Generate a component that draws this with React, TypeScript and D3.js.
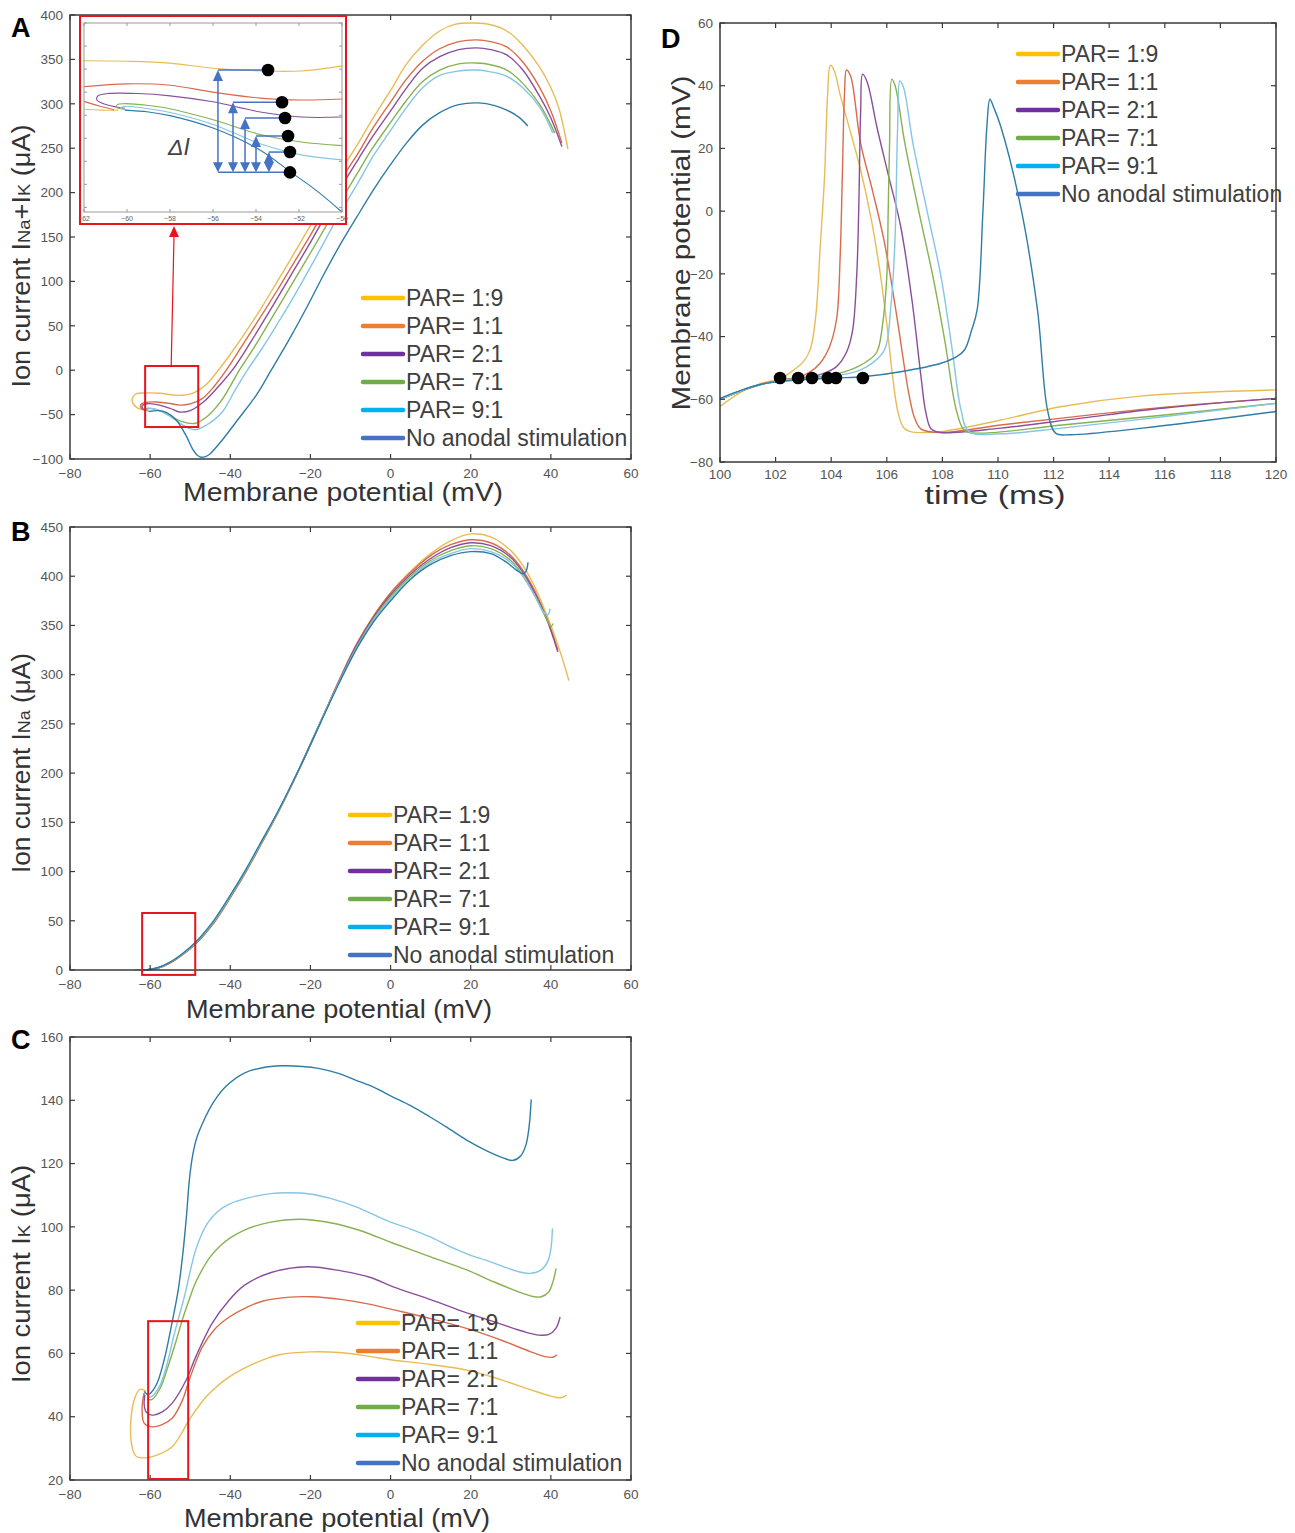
import React from 'react';
import * as d3 from 'd3';

type Pt = [number, number];
type Scale = d3.ScaleLinear<number, number>;

// ---- labels and ticks
const seriesLabels = ['PAR= 1:9', 'PAR= 1:1', 'PAR= 2:1', 'PAR= 7:1', 'PAR= 9:1', 'No anodal stimulation'];
const mvTicks = [-80, -60, -40, -20, 0, 20, 40, 60];
const naKTicks = [-100, -50, 0, 50, 100, 150, 200, 250, 300, 350, 400];
const naTicks = [0, 50, 100, 150, 200, 250, 300, 350, 400, 450];
const kTicks = [20, 40, 60, 80, 100, 120, 140, 160];
const timeTicks = [100, 102, 104, 106, 108, 110, 112, 114, 116, 118, 120];
const vmTicks = [-80, -60, -40, -20, 0, 20, 40, 60];
const insetXTicks = [-62, -60, -58, -56, -54, -52, -50];
const insetYTicks = [-60, -55, -50, -45, -40, -35, -30, -25, -20];

// ---- A: I_Na + I_K vs membrane potential (mV, uA)
const aPar19: Pt[] = [[-61, -45], [-63.2, -42.5], [-64.5, -34], [-63.6, -26.8], [-61, -25.6], [-57.5, -26], [-53, -28.3], [-49.5, -26], [-46, -16], [-43, 0], [-40, 18], [-36, 44], [-32, 72], [-28, 102], [-24, 132], [-20, 163], [-16, 195], [-12.75, 222], [-8, 256], [-4.5, 283], [0, 315], [4, 345], [8, 366], [12.25, 382], [16, 389.5], [21, 391], [25, 389], [29, 382], [33, 366], [37.25, 341], [40, 318], [42, 295], [44.25, 249]];
const aPar11: Pt[] = [[-61, -45], [-62.2, -43], [-62.3, -38.5], [-60.5, -36], [-58.5, -35.8], [-55, -37.5], [-52.75, -39.3], [-50, -38], [-47, -32], [-44, -18], [-41, 0], [-37, 28], [-33, 56], [-28, 92], [-24, 122], [-20, 152], [-16, 184], [-12.75, 212], [-8, 245], [-4.5, 272], [0, 302], [4, 328], [8, 348], [12.25, 362], [17, 370], [21.5, 372], [25, 370], [29, 364], [33, 347], [37.25, 318], [40, 292], [42.75, 256]];
const aPar21: Pt[] = [[-60.8, -45.5], [-61.8, -43.5], [-62, -40], [-60.8, -37.8], [-58, -39], [-55, -43], [-52.75, -47], [-50, -45.5], [-46.5, -35], [-42.5, -16], [-39.5, 0], [-35, 31], [-30, 68], [-25, 106], [-20, 144], [-16, 176], [-12.75, 203], [-8, 238], [-4.5, 263], [0, 292], [4, 318], [8, 340], [12.25, 353], [17, 361], [21.5, 363], [25, 361], [29, 355], [33, 338], [37.25, 308], [40, 284], [42.75, 252]];
const aPar71: Pt[] = [[-60.5, -46], [-61, -44.3], [-60.6, -42.8], [-58, -45], [-55, -51.5], [-52, -58], [-49, -60], [-46, -53], [-42.5, -36], [-40, -18], [-37.75, 0], [-34, 26], [-30, 56], [-25, 94], [-20, 132], [-16, 163], [-12.75, 188], [-8, 224], [-4.5, 250], [0, 279], [4, 304], [8, 325], [12.25, 338], [17, 345], [21.5, 346], [25, 344], [29, 338], [33, 323], [37.25, 299], [41, 267]];
const aPar91: Pt[] = [[-60.3, -46.5], [-60.7, -44.8], [-60.3, -43.3], [-57, -46.5], [-54, -55], [-51, -64], [-48.5, -67], [-46, -62], [-42, -47], [-39, -24], [-35.75, 0], [-32, 25], [-28, 54], [-24, 84], [-20, 116], [-16, 149], [-12.75, 176], [-8, 212], [-4.5, 240], [0, 270], [4, 296], [8, 318], [12.25, 332], [17, 337], [21.5, 338], [25, 336], [29, 331], [33, 318], [37.25, 296], [40.5, 267]];
const aNone: Pt[] = [[-60.3, -46.5], [-58, -45.5], [-56, -47.5], [-53.5, -56], [-51, -74], [-49.5, -88], [-48.3, -95.5], [-47.3, -98], [-46.2, -97.3], [-45, -94], [-42, -78.6], [-38, -55], [-33.5, -28], [-29.8, 0], [-25.25, 35], [-21, 70], [-17, 105], [-12.75, 140], [-8.5, 172], [-4, 205], [-0.25, 230], [4, 256], [8, 276], [12.25, 290], [17, 299], [22, 301], [26, 298], [29, 293], [32, 285], [34.25, 275]];

// ---- A inset (zoom of the threshold region)
const insetPar19a: Pt[] = [[-62, -28.2], [-60, -28.3], [-58, -28.7], [-56, -29.8], [-53.8, -30.4], [-51.9, -30.4], [-50, -29.3]];
const insetPar19b: Pt[] = [[-62, -38.7], [-61.2, -38.9], [-60.4, -38.9]];
const insetPar11a: Pt[] = [[-62, -33.8], [-60, -33.2], [-58, -33.5], [-56, -35], [-53.8, -36.3], [-51.9, -36.7], [-50, -36.5]];
const insetPar11b: Pt[] = [[-62, -37], [-61.3, -38], [-60.6, -38.8]];
const insetPar21: Pt[] = [[-60.1, -38.5], [-60.9, -37.8], [-61.4, -36.7], [-61.35, -35.8], [-60.9, -35.3], [-59.5, -35.3], [-58, -35.8], [-56, -37.1], [-53.8, -39.3], [-51.9, -40.4], [-50, -40.4]];
const insetPar71: Pt[] = [[-60.1, -38.7], [-60.5, -38.3], [-60.45, -37.7], [-60.1, -37.5], [-59, -37.9], [-58, -38.6], [-56, -41], [-53.8, -44.2], [-51.9, -45.8], [-50, -46.6]];
const insetPar91: Pt[] = [[-60, -38.9], [-60.3, -38.5], [-60.15, -38.1], [-59, -38.6], [-58, -39.4], [-56, -42], [-53.8, -46.2], [-51.9, -48.6], [-50, -49.7]];
const insetNone: Pt[] = [[-60.1, -38.9], [-59, -39.3], [-58, -40.1], [-56, -42.8], [-53.8, -47.6], [-52.4, -52.3], [-51.2, -56.3], [-50, -61]];
const insetDotX = [-53.44, -52.79, -52.65, -52.51, -52.42, -52.42];
const insetDotY = [-30.2, -37.2, -40.6, -44.5, -48.0, -52.4];
const deltaArrowX = [-55.77, -55.07, -54.51, -54.0, -53.4];

// ---- B: I_Na
const bPar19: Pt[] = [[-64, 0], [-61, 0.3], [-58, 2], [-55, 7], [-52, 15], [-48.5, 27], [-44, 48], [-40, 73], [-36, 100], [-32.75, 124], [-28, 160], [-22.5, 206], [-17.5, 251], [-13, 292], [-8.5, 330], [-4, 361], [0, 383], [4.75, 404], [10, 423], [15, 436], [20, 443], [25, 440], [30, 426], [33, 411], [36, 389], [40, 350], [42.5, 321], [44.5, 294]];
const bPar11: Pt[] = [[-62, 0], [-60, 0.5], [-58, 2], [-55, 7.5], [-52, 15.5], [-48.5, 27.5], [-44, 49], [-40, 74], [-36, 101], [-32.75, 125], [-28, 161], [-22.5, 207], [-17.5, 252], [-13, 293], [-8.5, 331], [-4, 361], [0, 383], [4.75, 403], [10, 421], [15, 432], [20, 437], [25, 434], [30, 421], [33, 406], [36, 385], [39, 357], [41.75, 325]];
const bPar21: Pt[] = [[-61.5, 0], [-60, 0.5], [-58, 2], [-55, 7.5], [-52, 15.5], [-48.5, 27.5], [-44, 49], [-40, 74], [-36, 101], [-32.75, 125], [-28, 161], [-22.5, 207], [-17.5, 252], [-13, 292], [-8.5, 330], [-4, 360], [0, 381], [4.75, 401], [10, 418], [15, 429], [20, 434], [25, 431], [30, 419], [33, 404], [36, 383], [39, 356], [41.75, 323]];
const bPar71: Pt[] = [[-61.3, 0], [-60, 0.5], [-58, 2.2], [-55, 7.8], [-52, 16], [-48.5, 28], [-44, 49.5], [-40, 74.5], [-36, 101.5], [-32.75, 125.5], [-28, 161], [-22.5, 207], [-17.5, 252], [-13, 291], [-8.5, 328], [-4, 358], [0, 379], [4.75, 399], [10, 416], [15, 426], [20, 431], [25, 428], [30, 416], [33, 401], [36, 380], [38.5, 360], [40, 349], [40.6, 352]];
const bPar91: Pt[] = [[-61.2, 0], [-60, 0.6], [-58, 2.3], [-55, 8], [-52, 16], [-48.5, 28.5], [-44, 50], [-40, 75], [-36, 102], [-32.75, 126], [-28, 161.5], [-22.5, 207], [-17.5, 252], [-13, 291], [-8.5, 327], [-4, 357], [0, 377], [4.75, 397], [10, 414], [15, 423], [20, 428], [25, 425], [30, 414], [33, 400], [36, 380], [38.5, 362], [39.3, 361], [39.8, 367]];
const bNone: Pt[] = [[-61, 0], [-58, 2.5], [-55, 8], [-52, 16.5], [-48.5, 29], [-44, 51], [-40, 76], [-36, 103], [-32.75, 127], [-28, 162], [-22.5, 207], [-17.5, 251], [-13, 290], [-8.5, 326], [-4, 355], [0, 375], [4.75, 396], [10, 412], [15, 421], [20, 425], [25, 423], [29, 414], [31.5, 406], [33, 402.5], [33.8, 405], [34.3, 414]];

// ---- C: I_K
const cPar19: Pt[] = [[-61, 48], [-62.5, 48.7], [-63.8, 46], [-64.8, 39], [-64.6, 31], [-63.5, 27.5], [-61.1, 27], [-58, 28], [-54.5, 30.5], [-52.3, 34.5], [-50.25, 39], [-46, 46.3], [-40.25, 52.6], [-32, 57.9], [-27.75, 59.6], [-20, 60.5], [-12, 60.2], [-5, 59], [0, 58], [10, 56.5], [20, 54.5], [28, 51.5], [35, 48.5], [40, 46.5], [42.5, 46], [44, 46.8]];
const cPar11: Pt[] = [[-61.5, 47.5], [-62, 43], [-61.5, 38], [-59.5, 36.8], [-57, 37.5], [-54.5, 39.5], [-52, 45], [-50.25, 51.6], [-47, 62], [-44, 67.5], [-40.25, 71.5], [-36, 74.5], [-32, 76.5], [-25, 77.8], [-19.8, 77.9], [-12, 77], [-5, 75.5], [0, 74], [10, 71], [20, 67.5], [28, 64], [35, 60.5], [38.5, 59], [40.5, 58.8], [41.5, 59.6]];
const cPar21: Pt[] = [[-61.3, 47], [-61.5, 44], [-61, 41.5], [-59.5, 40.5], [-57, 41.5], [-54.5, 44.3], [-51, 51.6], [-48.6, 59], [-44.5, 69.6], [-40.5, 76.5], [-36.5, 81.5], [-30, 85.5], [-20.75, 87.4], [-12, 86], [-5, 84], [0.5, 81.1], [10, 77], [19, 72.8], [27, 69.5], [33, 67], [37, 65.8], [39.5, 66], [41.3, 68], [42.3, 71.5]];
const cPar71: Pt[] = [[-60.8, 45.5], [-59.5, 45.5], [-57.5, 49], [-55.5, 56], [-53.5, 64], [-52, 70.5], [-50.4, 76.5], [-48.8, 82], [-47, 86.5], [-45, 90.5], [-42.5, 94], [-40, 96.5], [-36.5, 99], [-30, 101.5], [-22.6, 102.4], [-15, 101.3], [-8, 99], [0.5, 94.9], [10, 90.5], [19, 86.4], [26, 82.5], [33, 79], [35.5, 78], [37.6, 77.9], [39.5, 79.5], [40.6, 83], [41.3, 86.9]];
const cPar91: Pt[] = [[-60.5, 46], [-59.5, 46.5], [-57.5, 50], [-55.5, 58], [-54, 66], [-52.5, 73], [-51.25, 79], [-50, 86], [-48.7, 92.5], [-47.2, 97.5], [-45.5, 101.5], [-43, 105], [-40.25, 107.2], [-35, 109.3], [-30, 110.5], [-25.4, 110.8], [-20, 110.4], [-15, 109], [-8.75, 106.4], [0, 101.5], [5, 99.3], [9.75, 96.9], [15, 93.7], [20, 91], [23.7, 89.5], [28, 87.5], [32, 85.8], [34.75, 85.3], [37.6, 86.4], [39.2, 89], [40, 93], [40.4, 99.5]];
const cNone: Pt[] = [[-61.5, 48], [-60.5, 47], [-58.5, 50], [-56.5, 58], [-54.5, 70], [-53, 80], [-51.8, 92], [-50.9, 104], [-50.2, 115], [-49.4, 122.5], [-48.4, 128], [-47, 132.5], [-45.5, 136.5], [-43.9, 140], [-41, 144.5], [-36.5, 148.6], [-32, 150.3], [-27.25, 150.9], [-22, 150.7], [-18, 150.1], [-13, 148.5], [-8.75, 146.4], [-4, 144], [0.5, 141.1], [5, 138.3], [9.75, 134.8], [14, 131.5], [19, 127.4], [24, 124], [28.25, 121.7], [30.5, 121], [32.5, 122.5], [33.8, 126], [34.6, 132], [35.1, 140.3]];

// ---- D: membrane potential vs time (ms, mV)
const dPar19: Pt[] = [[100, -62.3], [100.8, -57.5], [101.45, -55], [102.2, -53.3], [102.6, -51], [103, -48], [103.25, -44], [103.45, -33], [103.6, -12], [103.76, 11], [103.87, 37], [103.97, 46.5], [104.1, 45], [104.34, 36.5], [104.7, 25], [105.06, 13.1], [105.45, -3], [105.78, -20.9], [106, -36], [106.21, -52.8], [106.4, -64], [106.6, -69], [106.85, -70.3], [107.95, -70.3], [110.1, -66.6], [112.3, -62.3], [115.2, -58.9], [120, -57]];
const dPar11: Pt[] = [[100, -60], [100.8, -57.2], [101.45, -55.3], [102.2, -53.8], [102.8, -53], [103.2, -51.5], [103.6, -48.5], [103.95, -43], [104.2, -34], [104.32, -15], [104.4, 11], [104.48, 37.6], [104.55, 45], [104.7, 43], [105.06, 21.6], [105.5, 6], [105.92, -10.2], [106.35, -33], [106.79, -58.1], [107, -66], [107.23, -69.5], [107.95, -70.6], [110.1, -68.2], [112.3, -66], [116, -62.5], [120, -59.7]];
const dPar21: Pt[] = [[100, -60], [100.8, -57.2], [101.45, -55.3], [102.2, -54], [102.8, -53.3], [103.3, -52.8], [103.8, -51.5], [104.2, -49.5], [104.55, -45], [104.77, -38], [104.92, -20], [104.99, 0.3], [105.06, 32], [105.13, 43.7], [105.3, 41], [105.64, 27], [106.07, 11], [106.5, -4.9], [106.9, -28], [107.23, -52.8], [107.4, -64], [107.6, -69.5], [107.95, -70.6], [110.1, -69.2], [113, -66], [116, -62.8], [120, -59.7]];
const dPar71: Pt[] = [[100, -60], [100.8, -57.2], [101.45, -55.3], [102.2, -54], [103.3, -53], [103.9, -52.5], [104.5, -51.2], [104.9, -49.8], [105.3, -47.8], [105.64, -45], [105.85, -36], [106, -20.9], [106.05, 0], [106.1, 21.6], [106.18, 42.1], [106.3, 40], [106.65, 21.6], [107.15, 0], [107.66, -20.9], [108.1, -42], [108.5, -63.4], [108.8, -70], [109.4, -70.8], [112.3, -68.2], [116, -65], [120, -61.3]];
const dPar91: Pt[] = [[100, -60], [100.8, -57.2], [101.45, -55.3], [102.2, -54.2], [103.3, -53.2], [104.12, -52.5], [104.6, -51.8], [105.06, -50.6], [105.5, -48.3], [105.92, -44.2], [106.15, -30], [106.29, -10.2], [106.39, 27], [106.47, 41.5], [106.6, 39.5], [106.94, 21.6], [107.45, 0], [107.95, -20.9], [108.35, -44], [108.67, -63.4], [108.96, -70.3], [110.1, -71], [112.3, -69.2], [116, -65.5], [120, -61.3]];
const dNone: Pt[] = [[100, -59.7], [100.8, -57], [101.45, -55.3], [102.2, -54.3], [103.3, -53.6], [104.2, -53.2], [105.14, -52.8], [106.5, -51.2], [107.95, -48.5], [108.5, -46.5], [108.8, -44.2], [109.05, -38], [109.25, -31.5], [109.46, 0.3], [109.6, 27], [109.71, 35.7], [109.85, 33], [110.1, 27], [110.84, 0.3], [111.42, -31.5], [111.78, -63.4], [112.07, -70.8], [112.6, -71.3], [115.2, -69.2], [120, -63.9]];
const thresholdTimes = [102.16, 102.81, 103.31, 103.88, 104.17, 105.14];
const thresholdV = [-53.2, -53.2, -53.2, -53.2, -53.2, -53.2];

// ---- red boxes marking the threshold region (mV, uA)
const boxA = { x: [-61.25, -48], y: [-64, 4.7] };
const boxB = { x: [-62, -48.75], y: [-5, 57.9] };
const boxC = { x: [-60.5, -50.5], y: [20.3, 70.2] };

// ---- styles
const curveColors = ['#E8BC55', '#D96B4B', '#8A4F9A', '#86B24F', '#85C6E2', '#2F7CA6'];
const legendColors = ['#FFC000', '#ED7D31', '#7030A0', '#70AD47', '#00B0F0', '#4472C4'];
const FONT = '"Liberation Sans", Arial, sans-serif';
const RED = '#E8141B';
const BLUE = '#4472C4';
const fmt = d3.format('d');

interface Frame { left: number; right: number; top: number; bottom: number }

interface PanelProps {
  frame: Frame;
  xDomain: [number, number];
  yDomain: [number, number];
  xTicks: number[];
  yTicks: number[];
  curves: Pt[][];
  legend: { x: number; y: number };
  letter: { text: string; x: number; y: number };
  xLabel: { text: string; x: number; y: number; width: number };
  yLabel: { node: React.ReactNode; x: number; y: number; width: number };
  tickGap?: number;
  extras?: (x: Scale, y: Scale) => React.ReactNode;
}

const Panel: React.FC<PanelProps> = ({ frame, xDomain, yDomain, xTicks, yTicks, curves, legend, letter, xLabel, yLabel, tickGap = 19, extras }) => {
  const x = d3.scaleLinear().domain(xDomain).range([frame.left, frame.right]);
  const y = d3.scaleLinear().domain(yDomain).range([frame.bottom, frame.top]);
  const line = d3
    .line<Pt>()
    .x((d) => x(d[0]))
    .y((d) => y(d[1]))
    .curve(d3.curveCatmullRom.alpha(0.5));
  const tl = 5;

  return (
    <g>
      {curves.map((c, i) => (
        <path key={i} d={line(c) ?? ''} fill="none" stroke={curveColors[i]} strokeWidth={1.4} />
      ))}

      <rect x={frame.left} y={frame.top} width={frame.right - frame.left} height={frame.bottom - frame.top}
        fill="none" stroke="#3a3a3a" strokeWidth={1.5} />

      {/* x ticks, inside on bottom and top */}
      {xTicks.map((t) => (
        <g key={'x' + t}>
          <line x1={x(t)} x2={x(t)} y1={frame.bottom} y2={frame.bottom - tl} stroke="#3a3a3a" strokeWidth={1.2} />
          <line x1={x(t)} x2={x(t)} y1={frame.top} y2={frame.top + tl} stroke="#3a3a3a" strokeWidth={1.2} />
          <text x={x(t)} y={frame.bottom + tickGap} textAnchor="middle" fontSize={13.5} fill="#555">{fmt(t)}</text>
        </g>
      ))}
      {yTicks.map((t) => (
        <g key={'y' + t}>
          <line x1={frame.left} x2={frame.left + tl} y1={y(t)} y2={y(t)} stroke="#3a3a3a" strokeWidth={1.2} />
          <line x1={frame.right} x2={frame.right - tl} y1={y(t)} y2={y(t)} stroke="#3a3a3a" strokeWidth={1.2} />
          <text x={frame.left - 7} y={y(t)} dy="0.35em" textAnchor="end" fontSize={13.5} fill="#555">{fmt(t)}</text>
        </g>
      ))}

      {extras && extras(x, y)}

      {/* legend */}
      {seriesLabels.map((s, i) => (
        <g key={s}>
          <line x1={legend.x} x2={legend.x + 40} y1={legend.y + i * 28} y2={legend.y + i * 28}
            stroke={legendColors[i]} strokeWidth={4.5} strokeLinecap="round" />
          <text x={legend.x + 43} y={legend.y + i * 28} dy="0.36em" fontSize={23} fill="#404040">{s}</text>
        </g>
      ))}

      <text x={letter.x} y={letter.y} fontSize={27} fontWeight="bold" fill="#000">{letter.text}</text>
      <text x={xLabel.x} y={xLabel.y} textAnchor="middle" fontSize={25} fill="#333"
        textLength={xLabel.width} lengthAdjust="spacingAndGlyphs">{xLabel.text}</text>
      <text transform={`translate(${yLabel.x},${yLabel.y}) rotate(-90)`} textAnchor="middle" fontSize={25} fill="#333"
        textLength={yLabel.width} lengthAdjust="spacingAndGlyphs">{yLabel.node}</text>
    </g>
  );
};

const RedBox: React.FC<{ x: Scale; y: Scale; box: { x: number[]; y: number[] } }> = ({ x, y, box }) => (
  <rect x={x(box.x[0])} y={y(box.y[1])} width={x(box.x[1]) - x(box.x[0])} height={y(box.y[0]) - y(box.y[1])}
    fill="none" stroke={RED} strokeWidth={2} />
);

const Inset: React.FC = () => {
  const ix = d3.scaleLinear().domain([-62, -50]).range([84, 342]);
  const iy = d3.scaleLinear().domain([-61, -20]).range([212, 23]);
  const line = d3
    .line<Pt>()
    .x((d) => ix(d[0]))
    .y((d) => iy(d[1]))
    .curve(d3.curveCatmullRom.alpha(0.5));
  const curves: [Pt[], number][] = [
    [insetPar19a, 0], [insetPar19b, 0], [insetPar11a, 1], [insetPar11b, 1],
    [insetPar21, 2], [insetPar71, 3], [insetPar91, 4], [insetNone, 5],
  ];
  const bottomY = iy(insetDotY[5]);

  return (
    <g>
      <rect x={80} y={16} width={266} height={208} fill="#fff" stroke={RED} strokeWidth={2} />
      {curves.map(([c, k], i) => (
        <path key={i} d={line(c) ?? ''} fill="none" stroke={curveColors[k]} strokeWidth={1.1} />
      ))}
      <rect x={84} y={23} width={258} height={189} fill="none" stroke="#9a9a9a" strokeWidth={1} />
      {insetXTicks.map((t) => (
        <g key={t}>
          <line x1={ix(t)} x2={ix(t)} y1={212} y2={209} stroke="#9a9a9a" />
          <line x1={ix(t)} x2={ix(t)} y1={23} y2={26} stroke="#9a9a9a" />
          <text x={ix(t)} y={221} textAnchor="middle" fontSize={7} fill="#666">{fmt(t)}</text>
        </g>
      ))}
      {insetYTicks.map((t) => (
        <g key={t}>
          <line x1={84} x2={87} y1={iy(t)} y2={iy(t)} stroke="#9a9a9a" />
          <line x1={342} x2={339} y1={iy(t)} y2={iy(t)} stroke="#9a9a9a" />
        </g>
      ))}

      {/* delta-I arrows */}
      <line x1={ix(deltaArrowX[0])} x2={ix(insetDotX[5])} y1={bottomY} y2={bottomY} stroke={BLUE} strokeWidth={1.5} />
      {deltaArrowX.map((ax, i) => {
        const px = ix(ax);
        const top = iy(insetDotY[i]);
        return (
          <g key={i}>
            <line x1={px} x2={ix(insetDotX[i])} y1={top} y2={top} stroke={BLUE} strokeWidth={1.5} />
            <line x1={px} x2={px} y1={top + 8} y2={bottomY - 8} stroke={BLUE} strokeWidth={1.5} />
            <path d={`M${px},${top}L${px - 5},${top + 11}L${px + 5},${top + 11}Z`} fill={BLUE} />
            <path d={`M${px},${bottomY}L${px - 5},${bottomY - 10}L${px + 5},${bottomY - 10}Z`} fill={BLUE} />
          </g>
        );
      })}
      {insetDotX.map((dx, i) => (
        <circle key={i} cx={ix(dx)} cy={iy(insetDotY[i])} r={6.3} fill="#000" />
      ))}
      <text x={168} y={155} fontSize={23} fontStyle="italic" fill="#444">ΔI</text>
    </g>
  );
};

const mvFrameX = { left: 70, right: 631 };

const App: React.FC = () => {
  const legendRows = (x: number, y: number) => ({ x, y });

  return (
    <svg width={1295} height={1533} viewBox="0 0 1295 1533" fontFamily={FONT}
      style={{ position: 'absolute', left: 0, top: 0, background: '#fff' }}>
      <rect width={1295} height={1533} fill="#fff" />

      {/* A */}
      <Panel
        frame={{ ...mvFrameX, top: 15, bottom: 459 }}
        xDomain={[-80, 60]} yDomain={[-100, 400]}
        xTicks={mvTicks} yTicks={naKTicks}
        curves={[aPar19, aPar11, aPar21, aPar71, aPar91, aNone]}
        legend={legendRows(363, 298)}
        letter={{ text: 'A', x: 11, y: 37 }}
        xLabel={{ text: 'Membrane potential (mV)', x: 343, y: 501, width: 320 }}
        yLabel={{ node: <>Ion current I<tspan fontSize={17}>Na</tspan>+I<tspan fontSize={17}>K</tspan> (μA)</>, x: 30, y: 256, width: 263 }}
        extras={(x, y) => (
          <g>
            <RedBox x={x} y={y} box={boxA} />
            <Inset />
            <line x1={x(-54.75)} y1={y(boxA.y[1])} x2={174} y2={236} stroke={RED} strokeWidth={1.2} />
            <path d="M174,226L169,237L179,237Z" fill={RED} />
          </g>
        )}
      />

      {/* B */}
      <Panel
        frame={{ ...mvFrameX, top: 527, bottom: 970 }}
        xDomain={[-80, 60]} yDomain={[0, 450]}
        xTicks={mvTicks} yTicks={naTicks}
        curves={[bPar19, bPar11, bPar21, bPar71, bPar91, bNone]}
        legend={legendRows(350, 815)}
        letter={{ text: 'B', x: 11, y: 541 }}
        xLabel={{ text: 'Membrane potential (mV)', x: 339, y: 1018, width: 306 }}
        yLabel={{ node: <>Ion current I<tspan fontSize={17}>Na</tspan> (μA)</>, x: 30, y: 763, width: 220 }}
        extras={(x, y) => <RedBox x={x} y={y} box={boxB} />}
      />

      {/* C */}
      <Panel
        frame={{ ...mvFrameX, top: 1037, bottom: 1480 }}
        xDomain={[-80, 60]} yDomain={[20, 160]}
        xTicks={mvTicks} yTicks={kTicks}
        curves={[cPar19, cPar11, cPar21, cPar71, cPar91, cNone]}
        legend={legendRows(358, 1323)}
        letter={{ text: 'C', x: 11, y: 1049 }}
        xLabel={{ text: 'Membrane potential (mV)', x: 337, y: 1527, width: 306 }}
        yLabel={{ node: <>Ion current I<tspan fontSize={17}>K</tspan> (μA)</>, x: 30, y: 1274, width: 218 }}
        extras={(x, y) => <RedBox x={x} y={y} box={boxC} />}
      />

      {/* D */}
      <Panel
        frame={{ left: 720, right: 1276, top: 23, bottom: 462 }}
        xDomain={[100, 120]} yDomain={[-80, 60]}
        xTicks={timeTicks} yTicks={vmTicks}
        curves={[dPar19, dPar11, dPar21, dPar71, dPar91, dNone]}
        legend={legendRows(1018, 54)}
        letter={{ text: 'D', x: 661, y: 48 }}
        xLabel={{ text: 'time (ms)', x: 995, y: 504, width: 141 }}
        yLabel={{ node: <>Membrane potential (mV)</>, x: 690, y: 243, width: 335 }}
        tickGap={17}
        extras={(x, y) => (
          <g>
            {thresholdTimes.map((t, i) => (
              <circle key={i} cx={x(t)} cy={y(thresholdV[i])} r={6.3} fill="#000" />
            ))}
          </g>
        )}
      />
    </svg>
  );
};

export default App;
